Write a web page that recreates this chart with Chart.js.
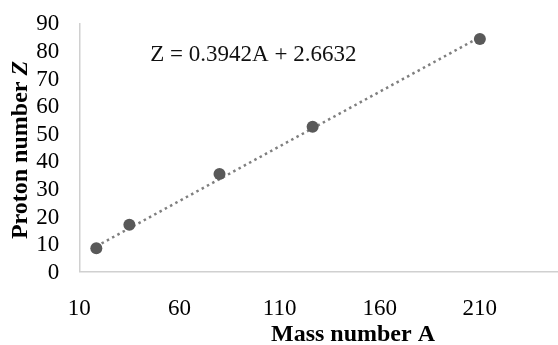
<!DOCTYPE html>
<html>
<head>
<meta charset="utf-8">
<script src="https://cdn.jsdelivr.net/npm/chart.js@4.4.1/dist/chart.umd.min.js"></script>
<style>
    html, body { margin: 0; padding: 0; background: #fff; overflow: hidden; }
    /* plot runs past the right edge of the window, as in the cropped original */
    #wrap { width: 580px; height: 345px; position: relative; }
</style>
</head>
<body>
<div id="wrap"><canvas id="chart"></canvas></div>
<script>
// mass number A vs proton number Z
const massNumbers = [18.5, 35, 80, 126.5, 210];
const protonNumbers = [8.5, 17, 35.4, 52.5, 84.3];

// linear trendline end points
const trendA = [18.5, 210];
const trendZ = [9.2, 85.0];

const xTicks = [10, 60, 110, 160, 210, 260];
const yTicks = [0, 10, 20, 30, 40, 50, 60, 70, 80, 90];
const equation = 'Z = 0.3942A + 2.6632';

const serif = '"Liberation Serif", "Times New Roman", serif';
Chart.defaults.font.family = serif;
Chart.defaults.font.size = 23;
Chart.defaults.color = '#000';

// fixed box sizes, no extra label padding
const fixBox = size => s => {
    if (s.isHorizontal()) s.height = size; else s.width = size;
    s.paddingTop = s.paddingBottom = s.paddingLeft = s.paddingRight = 0;
};

const extraText = {
    id: 'extraText',
    afterDraw(chart) {
        const { ctx, chartArea } = chart;
        ctx.save();
        ctx.fillStyle = '#111';
        ctx.textBaseline = 'middle';
        ctx.textAlign = 'left';
        ctx.font = '23px ' + serif;
        ctx.fillText(equation, chartArea.left + 71, chartArea.top + 32);

        ctx.fillStyle = '#000';
        ctx.textAlign = 'center';
        ctx.font = 'bold 24px ' + serif;
        ctx.fillText('Mass number A', 353, 335);

        // y title, rotated, with italic Z
        ctx.translate(21, 150);
        ctx.rotate(-Math.PI / 2);
        ctx.textAlign = 'left';
        const a = 'Proton number ';
        ctx.font = 'bold 24px ' + serif;
        const wa = ctx.measureText(a).width;
        ctx.font = 'italic bold 24px ' + serif;
        const wz = ctx.measureText('Z').width;
        const x0 = -(wa + wz) / 2;
        ctx.font = 'bold 24px ' + serif;
        ctx.fillText(a, x0, 0);
        ctx.font = 'italic bold 24px ' + serif;
        ctx.fillText('Z', x0 + wa, 0);
        ctx.restore();
    }
};

new Chart(document.getElementById('chart'), {
    type: 'scatter',
    data: {
        datasets: [
            {
                label: 'Z',
                data: massNumbers.map((a, i) => ({ x: a, y: protonNumbers[i] })),
                backgroundColor: '#595959', borderWidth: 0,
                pointRadius: 6, pointHoverRadius: 6, order: 1
            },
            {
                label: 'Linear',
                data: trendA.map((a, i) => ({ x: a, y: trendZ[i] })),
                showLine: true, borderColor: '#7f7f7f', borderWidth: 2.5,
                borderDash: [2.5, 3.5], pointRadius: 0, order: 2
            }
        ]
    },
    options: {
        responsive: true, maintainAspectRatio: false, animation: false,
        layout: { autoPadding: false, padding: { top: 23.3, right: 0, bottom: 0, left: 0 } },
        plugins: { legend: { display: false }, tooltip: { enabled: false } },
        scales: {
            x: {
                type: 'linear', min: 10, max: 260,
                afterBuildTicks: s => { s.ticks = xTicks.map(v => ({ value: v })); },
                afterFit: fixBox(73.3),
                grid: { display: false, drawTicks: false },
                border: { color: '#d0d0d0', width: 1.5 },
                ticks: { padding: 23, autoSkip: false, maxRotation: 0 }
            },
            y: {
                min: 0, max: 90,
                afterBuildTicks: s => { s.ticks = yTicks.map(v => ({ value: v })); },
                afterFit: fixBox(79.3),
                grid: { display: false, drawTicks: false },
                border: { color: '#d0d0d0', width: 1.5 },
                ticks: { padding: 20, autoSkip: false, labelOffset: 1 }
            }
        }
    },
    plugins: [extraText]
});
</script>
</body>
</html>
